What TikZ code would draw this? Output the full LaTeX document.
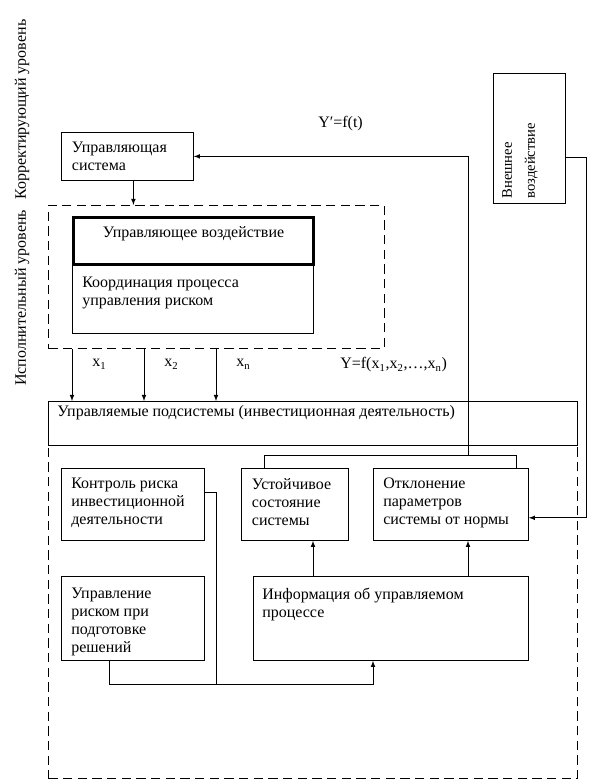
\documentclass[tikz,border=0pt]{standalone}
\usepackage{fontspec}
\setmainfont{Liberation Serif}
\usetikzlibrary{positioning,calc}
\tikzset{%
  box/.style={draw,line width=.6pt,anchor=north west,inner sep=0pt},
  dbox/.style={draw,line width=.6pt,dash pattern=on 7pt off 4pt,anchor=north west,inner sep=0pt},
  heavy/.style={draw,line width=2.25pt,anchor=north west,inner sep=0pt},
  txt/.style={align=left,inner sep=0pt,font=\fontsize{12}{13.5}\selectfont},
  lbl/.style={inner sep=0pt,font=\fontsize{12}{13.5}\selectfont},
  conn/.style={line width=.6pt},
  arr/.style={line width=.6pt,-latex}
}

\begin{document}
\begin{tikzpicture}[x=0.75pt,y=-0.75pt]
  \useasboundingbox (0,0) rectangle (589,781);

  % levels
  \node[lbl,rotate=90,anchor=west] (lvl) at (22,386) {Исполнительный уровень\hspace{8pt}Корректирующий уровень};

  % upper part
  \node[box,minimum width=99pt,minimum height=36pt] (ctrl) at (61,132) {};
  \node[txt,below right=7.5pt and 8pt of ctrl.north west] {Управляющая\\система};

  \node[dbox,minimum width=252pt,minimum height=107.25pt] (exec) at (48,205) {};
  \node[box,minimum width=180.75pt,minimum height=51.75pt] (coord) at (72,264) {};
  \node[txt,below right=9.5pt and 7.5pt of coord.north west] {Координация процесса\\управления риском};
  \node[heavy,minimum width=180pt,minimum height=35.25pt] (act) at (72,216) {};
  \node[lbl,below=8pt of act.north] {Управляющее воздействие};

  \node[box,minimum width=54pt,minimum height=97.5pt] (ext) at (493,73) {};
  \node[rotate=90,anchor=north west,align=left,inner sep=0pt,
        font=\fontsize{11}{17.25}\selectfont] at ($(ext.south west)+(9,-5)$) {Внешнее\\воздействие};

  \node[lbl,anchor=west] (yt) at (318,124) {Y′=f(t)};
  \node[lbl,anchor=west] (yx) at (340,365) {Y=f(x\textsubscript{1},x\textsubscript{2},…,x\textsubscript{n})};

  % lower part
  \node[dbox,minimum width=396.75pt,minimum height=249.75pt] (zone) at (48,445) {};
  \node[box,minimum width=396.75pt,minimum height=33pt] (sub) at (48,401) {};
  \node[txt,below right=3pt and 6.75pt of sub.north west] {Управляемые подсистемы (инвестиционная деятельность)};

  \node[box,minimum width=107.25pt,minimum height=54pt] (ctl) at (61,468) {};
  \node[txt,below right=7.5pt and 7.5pt of ctl.north west] {Контроль риска\\инвестиционной\\деятельности};
  \node[box,minimum width=107.25pt,minimum height=63pt] (rsk) at (61,576) {};
  \node[txt,below right=9pt and 7.5pt of rsk.north west] {Управление\\риском при\\подготовке\\решений};
  \node[box,minimum width=80.25pt,minimum height=54pt] (stab) at (241,468) {};
  \node[txt,below right=7.5pt and 8pt of stab.north west] {Устойчивое\\состояние\\системы};
  \node[box,minimum width=116.25pt,minimum height=54pt] (dev) at (373,468) {};
  \node[txt,below right=7.5pt and 7.5pt of dev.north west] {Отклонение\\параметров\\системы от нормы};
  \node[box,minimum width=206.25pt,minimum height=63pt] (info) at (253,576) {};
  \node[txt,below right=9pt and 6.75pt of info.north west] {Информация об управляемом\\процессе};

  % connectors
  \draw[arr] ([xshift=4.5pt]ctrl.south) -- ([xshift=4.5pt]ctrl.south |- exec.north);
  \foreach \dx/\k in {24/1,96/2,168/n}
    \draw[arr] ($(exec.south west)+(\dx,0)$) -- node[lbl,pos=.3,right=15pt] {x\textsubscript{\k}} ($(sub.north west)+(\dx,0)$);

  \draw[conn] ($(stab.north west)+(23,0)$) -- ++(0,-13) -| ($(dev.north east)+(-12,0)$);
  \draw[arr] ($(dev.north west)+(95,-13)$) |- (ctrl.east);
  \draw[arr] ($(ext.north east)+(0,84)$) -- ++(21,0) |- ($(dev.south east)+(0,-23)$);

  \draw[arr] ($(info.north west)+(60,0)$) -- ($(stab.south west)+(72,0)$);
  \draw[arr] ($(info.north west)+(215,0)$) -- ($(dev.south west)+(95,0)$);
  \draw[conn] ($(ctl.north east)+(0,24)$) -| ($(rsk.south east)+(12,24)$);
  \draw[arr] ($(rsk.south west)+(48,0)$) -- ++(0,24) -| ($(info.south west)+(120,0)$);
\end{tikzpicture}
\end{document}
